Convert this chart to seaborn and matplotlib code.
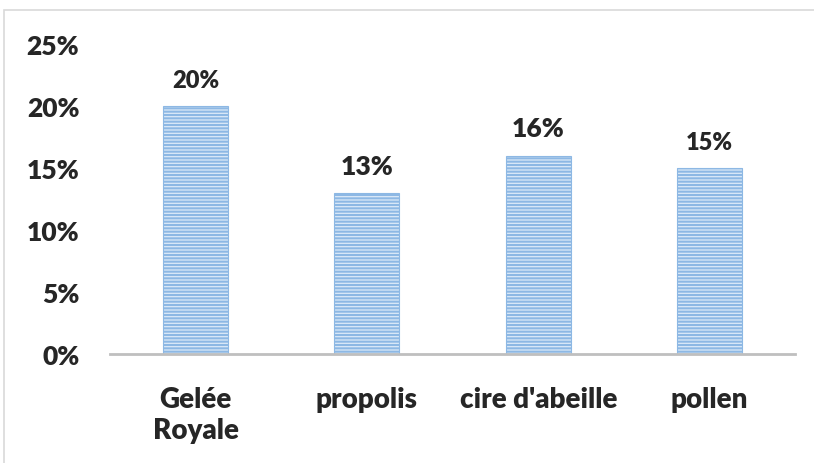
import matplotlib
matplotlib.use("Agg")
import matplotlib.pyplot as plt
from matplotlib.patches import Rectangle
import seaborn as sns
import pandas as pd

# données
produits = ["Gelée\nRoyale", "propolis", "cire d'abeille", "pollen"]
pourcentages = [0.20, 0.13, 0.16, 0.15]
etiquettes = ["20%", "13%", "16%", "15%"]
yticks = [0, 0.05, 0.10, 0.15, 0.20, 0.25]
ytick_labels = ["0%", "5%", "10%", "15%", "20%", "25%"]

sns.set_style("white")
plt.rcParams['font.family'] = ['Lato', 'DejaVu Sans']
plt.rcParams['hatch.color'] = '#5B9BD5'
plt.rcParams['hatch.linewidth'] = 1.5

df = pd.DataFrame({'produit': produits, 'valeur': pourcentages})

fig = plt.figure(figsize=(8.14, 4.64), dpi=100)
ax = fig.add_axes([0.135, 0.235, 0.842, 0.668])

sns.barplot(data=df, x='produit', y='valeur', color='#DCEAF8', width=0.38,
            saturation=1, ax=ax)
for p in ax.patches:
    p.set_hatch('-----')
    p.set_edgecolor('#8DB8E4')
    p.set_linewidth(0.8)

# étiquettes de valeur (tailles un peu différentes comme dans l'original)
tailles = [17, 19, 19, 17]
for i, (v, t) in enumerate(zip(pourcentages, etiquettes)):
    ax.annotate(t, (i, v), xytext=(0, 11), textcoords='offset points',
                ha='center', va='bottom', fontsize=tailles[i], fontweight='heavy')

ax.set_ylim(0, 0.25)
ax.set_xlim(-0.5, 3.5)
ax.set_yticks(yticks)
ax.set_yticklabels(ytick_labels, fontsize=19, fontweight='heavy')
ax.set_xticks(range(len(produits)))
ax.set_xticklabels(produits, fontsize=20, fontweight='heavy', linespacing=1.25)
ax.tick_params(axis='x', length=0, pad=23)
ax.tick_params(axis='y', length=0, pad=22)
ax.set_xlabel('')
ax.set_ylabel('')

for s in ['top', 'right', 'left']:
    ax.spines[s].set_visible(False)
ax.spines['bottom'].set_color('#BFBFBF')
ax.spines['bottom'].set_linewidth(2)

# cadre du graphique
fig.patches.append(Rectangle((4 / 814, -0.1), 1.2, 1.1 - 11 / 464,
                             transform=fig.transFigure, fill=False,
                             edgecolor='#D9D9D9', linewidth=1.2))

fig.savefig('out.png', dpi=100)
